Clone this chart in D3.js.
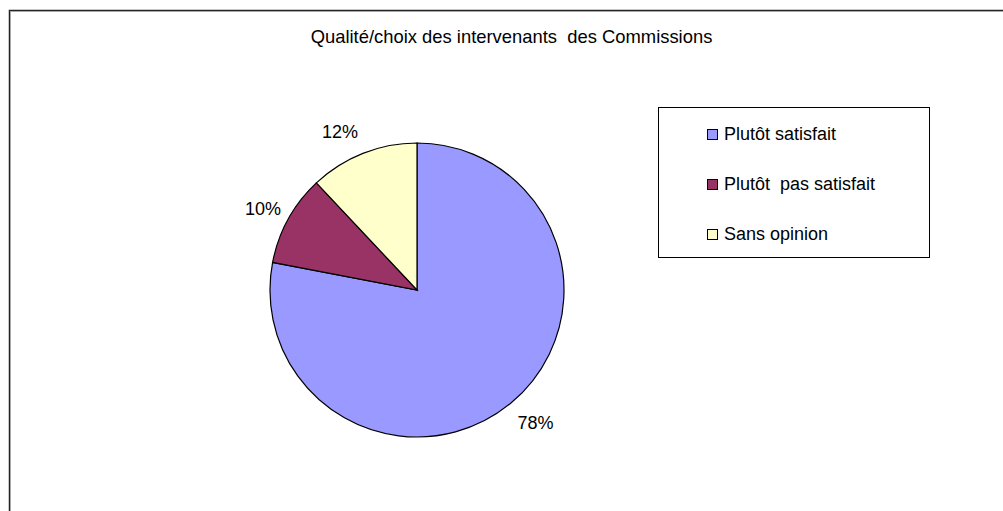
<!DOCTYPE html>
<html><head><meta charset="utf-8">
<script src="https://cdn.jsdelivr.net/npm/d3@7"></script>
<style>body{margin:0;background:#fff}svg{display:block}text{font-family:"Liberation Sans",Arial,sans-serif;fill:#000;white-space:pre}</style>
</head><body>
<svg id="c" width="1003" height="511"></svg>
<script>
const title = "Qualité/choix des intervenants  des Commissions";
const categories = ["Plutôt satisfait", "Plutôt  pas satisfait", "Sans opinion"];
const values = [78, 10, 12];
const labels = ["78%", "10%", "12%"];
const colors = ["#9999FF", "#993366", "#FFFFCC"];

const svg = d3.select("#c");
// outer frame
svg.append("path").attr("d","M9.5,520V10.5H1010").attr("fill","none").attr("stroke","#222").attr("stroke-width",1.5);
svg.append("path").attr("d","M10.5,520V11.5H1010").attr("fill","none").attr("stroke","#aaa").attr("stroke-width",1);

svg.append("text").attr("x",511.5).attr("y",43).attr("text-anchor","middle")
  .style("font-size","18.4px").text(title);

const cx = 417, cy = 290, r = 147;
const pie = d3.pie().sort(null).value(d=>d)(values);
const arc = d3.arc().innerRadius(0).outerRadius(r);
const g = svg.append("g").attr("transform",`translate(${cx},${cy})`);
g.selectAll("path").data(pie).join("path")
  .attr("d",arc).attr("fill",(d,i)=>colors[i]).attr("stroke","#000").attr("stroke-width",1.2);

// labels outside
const labelPos = [[535.5,429],[263,215],[340,138]];
g.selectAll("text.l").data(pie).join("text").attr("class","l")
  .attr("text-anchor","middle").style("font-size","18px")
  .attr("x",(d,i)=>labelPos[i][0]-cx).attr("y",(d,i)=>labelPos[i][1]-cy)
  .text((d,i)=>labels[i]);

// legend
svg.append("rect").attr("x",658.5).attr("y",107.5).attr("width",271).attr("height",150)
  .attr("fill","#fff").attr("stroke","#000").attr("stroke-width",1);
const lg = svg.append("g");
categories.forEach((c,i)=>{
  const y = 140 + i*50;
  lg.append("rect").attr("x",707.5).attr("y",y-10.5).attr("width",10).attr("height",10)
    .attr("fill",colors[i]).attr("stroke","#000").attr("stroke-width",1);
  lg.append("text").attr("x",724).attr("y",y).style("font-size","18px").text(c);
});
</script>
</body></html>
